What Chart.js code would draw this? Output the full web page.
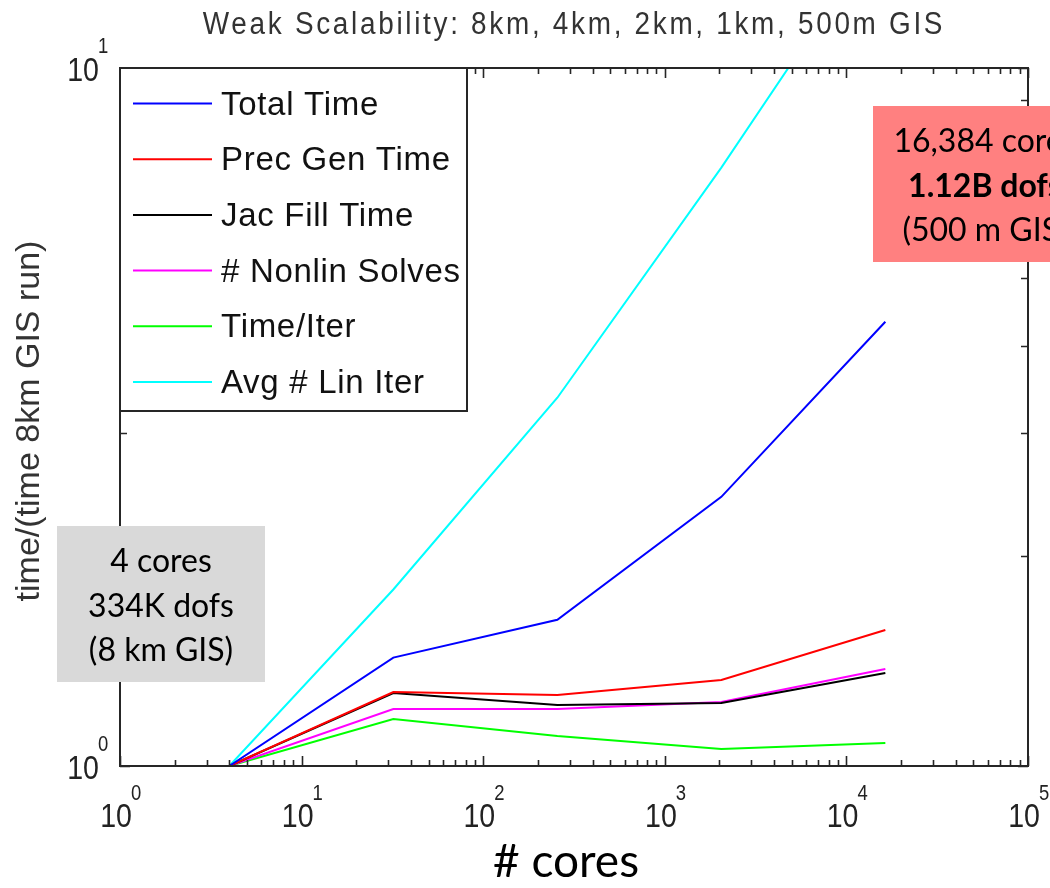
<!DOCTYPE html>
<html>
<head>
<meta charset="utf-8">
<script src="https://cdn.jsdelivr.net/npm/chart.js@4.4.1/dist/chart.umd.min.js"></script>
<style>
  html, body { margin: 0; padding: 0; background: #ffffff; }
  #wrap { width: 1050px; height: 888px; position: relative; }
</style>
</head>
<body>
<div id="wrap"><canvas id="c" width="1050" height="888"></canvas></div>
<script>
// Core counts of the weak-scaling runs (8km, 4km, 2km, 1km, 500m GIS)
const cores = [4, 32, 256, 2048, 16384];

// Quantities normalised by the 8km GIS run
const totalTime    = [1, 1.43, 1.62, 2.43, 4.33];
const precGenTime  = [1, 1.276, 1.264, 1.328, 1.566];
const jacFillTime  = [1, 1.272, 1.223, 1.231, 1.359];
const nonlinSolves = [1, 1.207, 1.207, 1.235, 1.377];
const timePerIter  = [1, 1.168, 1.104, 1.058, 1.079];
const avgLinIter   = [1, 1.79, 3.37, 7.2, 16.1];

const seriesNames = ['Total Time', 'Prec Gen Time', 'Jac Fill Time', '# Nonlin Solves', 'Time/Iter', 'Avg # Lin Iter'];
const seriesValues = [totalTime, precGenTime, jacFillTime, nonlinSolves, timePerIter, avgLinIter];
const seriesColors = ['#0000ff', '#ff0000', '#000000', '#ff00ff', '#00ff00', '#00ffff'];

// Decade exponents used for the axis tick labels
const xDecades = [0, 1, 2, 3, 4, 5];
const yDecades = [0, 1];

const titleText = 'Weak Scalability: 8km, 4km, 2km, 1km, 500m GIS';
const xAxisTitle = '# cores';
const yAxisTitle = 'time/(time 8km GIS run)';
const smallestRunNote = ['4 cores', '334K dofs', '(8 km GIS)'];
const largestRunNote = ['16,384 cores', '1.12B dofs', '(500 m GIS)'];

const AXIS_COLOR = '#262626';
const SANS = '"Liberation Sans", Arial, sans-serif';
const NOTE_FONT = 'Lato, "Open Sans", sans-serif';

const datasets = seriesNames.map((name, i) => ({
  label: name,
  data: cores.map((c, j) => ({ x: c, y: seriesValues[i][j] })),
  borderColor: seriesColors[i],
  backgroundColor: seriesColors[i],
  borderWidth: 2,
  pointRadius: 0,
  tension: 0,
  fill: false
}));

// Text squeezed horizontally, like the narrow plotting font of the axes
function narrowText(ctx, text, x, y, align, sx) {
  ctx.save();
  ctx.translate(x, y);
  ctx.scale(sx, 1);
  ctx.textAlign = align;
  ctx.fillText(text, 0, 0);
  ctx.restore();
}

// Boxed axes with inward ticks, superscript decade labels, framed legend and notes
const framePlugin = {
  id: 'frame',
  afterDatasetsDraw(chart) {
    const { ctx, chartArea: a, scales } = chart;
    const xs = scales.x, ys = scales.y;
    ctx.save();

    // axis box
    ctx.strokeStyle = AXIS_COLOR;
    ctx.lineWidth = 2;
    ctx.strokeRect(a.left, a.top, a.right - a.left, a.bottom - a.top);

    // ticks (major at decades, minor at 2..9)
    ctx.lineWidth = 1.6;
    const tickSet = (scale) => {
      const out = [];
      const lo = Math.floor(Math.log10(scale.min));
      const hi = Math.ceil(Math.log10(scale.max));
      for (let d = lo; d <= hi; d++) {
        for (let m = 1; m <= 9; m++) {
          const v = m * Math.pow(10, d);
          if (v >= scale.min * 0.9999 && v <= scale.max * 1.0001) out.push({ v, major: m === 1 });
        }
      }
      return out;
    };
    ctx.beginPath();
    tickSet(xs).forEach(t => {
      const px = Math.round(xs.getPixelForValue(t.v)) + 0.5;
      const len = t.major ? 10 : 6;
      ctx.moveTo(px, a.bottom); ctx.lineTo(px, a.bottom - len);
      ctx.moveTo(px, a.top); ctx.lineTo(px, a.top + len);
    });
    tickSet(ys).forEach(t => {
      const py = Math.round(ys.getPixelForValue(t.v)) + 0.5;
      const len = t.major ? 10 : 7;
      ctx.moveTo(a.left, py); ctx.lineTo(a.left + len, py);
      ctx.moveTo(a.right, py); ctx.lineTo(a.right - len, py);
    });
    ctx.stroke();

    // decade tick labels: "10" with raised exponent
    ctx.fillStyle = '#222222';
    ctx.textBaseline = 'middle';
    xDecades.forEach(e => {
      const px = xs.getPixelForValue(Math.pow(10, e));
      ctx.font = '34px ' + SANS;
      narrowText(ctx, '10', px + 12, a.bottom + 52, 'right', 0.84);
      ctx.font = '22px ' + SANS;
      narrowText(ctx, String(e), px + 11, a.bottom + 28, 'left', 0.84);
    });
    yDecades.forEach(e => {
      const py = ys.getPixelForValue(Math.pow(10, e));
      ctx.font = '34px ' + SANS;
      narrowText(ctx, '10', a.left - 21, py + 4, 'right', 0.84);
      ctx.font = '22px ' + SANS;
      narrowText(ctx, String(e), a.left - 22, py - 21, 'left', 0.84);
    });

    // title
    ctx.fillStyle = '#333333';
    ctx.font = '31px ' + SANS;
    if ('letterSpacing' in ctx) ctx.letterSpacing = '3px';
    narrowText(ctx, titleText, (a.left + a.right) / 2, 25, 'center', 0.9);
    if ('letterSpacing' in ctx) ctx.letterSpacing = '0px';

    // y axis title
    ctx.save();
    ctx.translate(30, (a.top + a.bottom) / 2 + 4);
    ctx.rotate(-Math.PI / 2);
    ctx.font = '34px ' + SANS;
    ctx.fillStyle = '#333333';
    ctx.textAlign = 'center';
    ctx.fillText(yAxisTitle, 0, 0);
    ctx.restore();

    // x axis title
    ctx.fillStyle = '#000000';
    ctx.font = '46px ' + NOTE_FONT;
    ctx.textAlign = 'center';
    ctx.fillText(xAxisTitle, 566, 862);

    // legend
    const lg = { left: a.left, top: a.top, right: 467, bottom: 411 };
    ctx.fillStyle = '#ffffff';
    ctx.fillRect(lg.left, lg.top, lg.right - lg.left, lg.bottom - lg.top);
    ctx.strokeStyle = AXIS_COLOR;
    ctx.lineWidth = 2;
    ctx.strokeRect(lg.left, lg.top, lg.right - lg.left, lg.bottom - lg.top);
    chart.data.datasets.forEach((ds, i) => {
      const yy = 103.5 + i * 55.7;
      ctx.strokeStyle = ds.borderColor;
      ctx.lineWidth = 2;
      ctx.beginPath();
      ctx.moveTo(133, yy); ctx.lineTo(212, yy);
      ctx.stroke();
      ctx.fillStyle = '#111111';
      ctx.font = '33px ' + SANS;
      ctx.textAlign = 'left';
      ctx.textBaseline = 'middle';
      if ('letterSpacing' in ctx) ctx.letterSpacing = '0.7px';
      ctx.fillText(ds.label, 221, yy + 2);
      if ('letterSpacing' in ctx) ctx.letterSpacing = '0px';
    });

    // note boxes
    const drawNote = (box, lines, fill, boldLine) => {
      ctx.fillStyle = fill;
      ctx.fillRect(box.x, box.y, box.w, box.h);
      ctx.fillStyle = '#000000';
      ctx.textAlign = 'center';
      ctx.textBaseline = 'middle';
      lines.forEach((t, i) => {
        ctx.font = (i === boldLine ? 'bold ' : '') + '32px ' + NOTE_FONT;
        ctx.fillText(t, box.x + box.w / 2, box.y + 36 + i * 44.5);
      });
    };
    drawNote({ x: 57, y: 526, w: 208, h: 156 }, smallestRunNote, '#d9d9d9', -1);
    drawNote({ x: 873, y: 106, w: 224, h: 156 }, largestRunNote, '#ff8080', 1);

    ctx.restore();
  }
};

new Chart(document.getElementById('c'), {
  type: 'line',
  data: { datasets },
  options: {
    responsive: false,
    animation: false,
    devicePixelRatio: 1,
    layout: { padding: { left: 120, right: 22, top: 68, bottom: 122 } },
    plugins: {
      legend: { display: false },
      title: { display: false },
      tooltip: { enabled: false }
    },
    scales: {
      x: { type: 'logarithmic', min: 1, max: 100000, display: false },
      y: { type: 'logarithmic', min: 1, max: 10, display: false }
    }
  },
  plugins: [framePlugin]
});
</script>
</body>
</html>
